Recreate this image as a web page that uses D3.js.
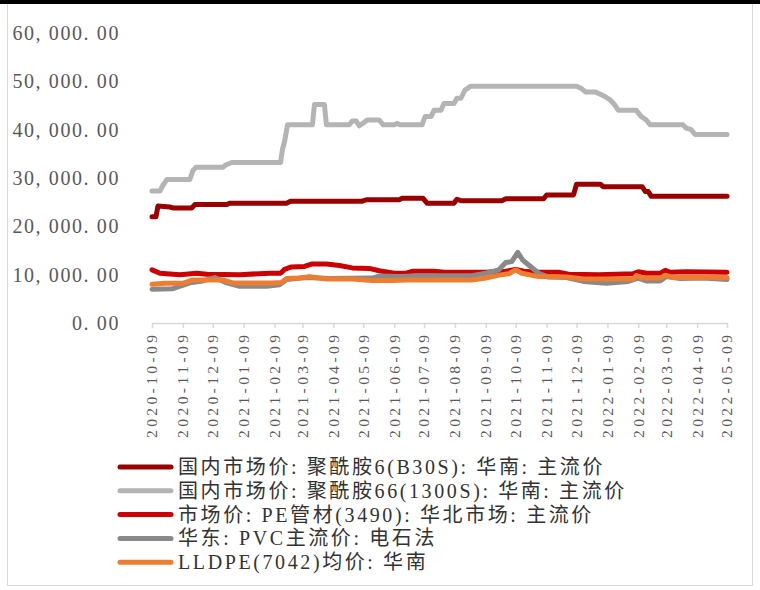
<!DOCTYPE html>
<html>
<head>
<meta charset="utf-8">
<script src="https://cdn.jsdelivr.net/npm/d3@7"></script>
<style>
  body { margin: 0; background: #fff; }
  svg { display: block; font-family: "Liberation Serif", "Noto Sans CJK SC", serif; }
</style>
</head>
<body>
<script>
// tick labels
const xTickLabels = ["2020-10-09", "2020-11-09", "2020-12-09", "2021-01-09", "2021-02-09",
  "2021-03-09", "2021-04-09", "2021-05-09", "2021-06-09", "2021-07-09", "2021-08-09",
  "2021-09-09", "2021-10-09", "2021-11-09", "2021-12-09", "2022-01-09", "2022-02-09",
  "2022-03-09", "2022-04-09", "2022-05-09"];
const yTicks = [0, 10000, 20000, 30000, 40000, 50000, 60000];

const seriesNames = [
  "国内市场价: 聚酰胺6(B30S): 华南: 主流价",
  "国内市场价: 聚酰胺66(1300S): 华南: 主流价",
  "市场价: PE管材(3490): 华北市场: 主流价",
  "华东: PVC主流价: 电石法",
  "LLDPE(7042)均价: 华南"
];
const colors = ["#990000", "#b4b4b4", "#cc0000", "#898989", "#ed7d31"];

// 聚酰胺6 (B30S)
const pa6 = [
  ["2020-10-09", 22000], ["2020-10-13", 22000], ["2020-10-15", 24200], ["2020-10-27", 24000],
  ["2020-10-30", 23800], ["2020-11-18", 23800], ["2020-11-21", 24500], ["2020-12-23", 24500],
  ["2020-12-26", 24800], ["2021-02-21", 24800], ["2021-02-25", 25200], ["2021-05-08", 25200],
  ["2021-05-12", 25500], ["2021-06-14", 25500], ["2021-06-17", 25800], ["2021-07-08", 25800],
  ["2021-07-12", 24800], ["2021-08-08", 24800], ["2021-08-11", 25600], ["2021-08-15", 25300],
  ["2021-09-25", 25300], ["2021-09-29", 25700], ["2021-11-06", 25700], ["2021-11-09", 26500],
  ["2021-12-06", 26500], ["2021-12-09", 28700], ["2022-01-02", 28700], ["2022-01-05", 28200],
  ["2022-02-13", 28200], ["2022-02-16", 27200], ["2022-02-19", 27200], ["2022-02-22", 26200],
  ["2022-05-09", 26200]
];

// 聚酰胺66 (1300S)
const pa66 = [
  ["2020-10-09", 27300], ["2020-10-17", 27300], ["2020-10-20", 28500], ["2020-10-24", 29700],
  ["2020-11-16", 29700], ["2020-11-19", 31500], ["2020-11-22", 32200], ["2020-12-19", 32200],
  ["2020-12-22", 32700], ["2020-12-28", 33200], ["2021-02-15", 33200], ["2021-02-17", 36000],
  ["2021-02-19", 37500], ["2021-02-22", 41000], ["2021-03-19", 41000], ["2021-03-21", 45200],
  ["2021-03-31", 45200], ["2021-04-02", 41000], ["2021-04-25", 41000], ["2021-04-28", 41800],
  ["2021-05-02", 41800], ["2021-05-05", 40800], ["2021-05-10", 41500], ["2021-05-13", 42000],
  ["2021-05-25", 42000], ["2021-05-29", 41000], ["2021-06-09", 41000], ["2021-06-12", 41300],
  ["2021-06-15", 41000], ["2021-07-07", 41000], ["2021-07-10", 42700], ["2021-07-16", 42700],
  ["2021-07-19", 44000], ["2021-07-26", 44000], ["2021-07-29", 45400], ["2021-08-08", 45400],
  ["2021-08-11", 46500], ["2021-08-15", 46500], ["2021-08-19", 48200], ["2021-08-25", 49000],
  ["2021-12-09", 49000], ["2021-12-14", 48500], ["2021-12-18", 47800], ["2021-12-28", 47800],
  ["2022-01-03", 47200], ["2022-01-07", 46800], ["2022-01-12", 46100], ["2022-01-16", 45200],
  ["2022-01-20", 44000], ["2022-02-07", 44000], ["2022-02-12", 42700], ["2022-02-17", 42000],
  ["2022-02-21", 41000], ["2022-03-26", 41000], ["2022-03-29", 40300], ["2022-04-03", 40000],
  ["2022-04-07", 39000], ["2022-05-09", 39000]
];

// PE管材 (3490)
const pe = [
  ["2020-10-09", 11000], ["2020-10-17", 10300], ["2020-11-06", 10000], ["2020-11-23", 10300],
  ["2020-12-03", 10100], ["2021-01-05", 10000], ["2021-02-04", 10300], ["2021-02-15", 10300],
  ["2021-02-19", 11100], ["2021-02-26", 11600], ["2021-03-11", 11700], ["2021-03-18", 12200],
  ["2021-04-02", 12200], ["2021-04-15", 11900], ["2021-04-28", 11400], ["2021-05-15", 11300],
  ["2021-05-25", 10800], ["2021-06-09", 10300], ["2021-06-21", 10300], ["2021-06-27", 10700],
  ["2021-07-19", 10700], ["2021-07-29", 10500], ["2021-09-09", 10500], ["2021-09-17", 10600],
  ["2021-09-29", 10700], ["2021-10-09", 11100], ["2021-10-17", 10700], ["2021-11-01", 10500],
  ["2021-11-21", 10500], ["2021-12-01", 10100], ["2021-12-31", 10000], ["2022-02-04", 10200],
  ["2022-02-09", 10600], ["2022-02-17", 10300], ["2022-03-03", 10300], ["2022-03-08", 10900],
  ["2022-03-13", 10500], ["2022-03-29", 10600], ["2022-05-09", 10500]
];

// PVC 电石法
const pvc = [
  ["2020-10-09", 7000], ["2020-10-30", 7100], ["2020-11-16", 8300], ["2020-11-29", 8700],
  ["2020-12-11", 9400], ["2020-12-23", 8300], ["2021-01-05", 7600], ["2021-02-01", 7600],
  ["2021-02-14", 7900], ["2021-02-21", 9000], ["2021-03-13", 9400], ["2021-04-05", 9200],
  ["2021-05-18", 9300], ["2021-05-25", 9700], ["2021-06-14", 9600], ["2021-07-04", 9800],
  ["2021-08-26", 9800], ["2021-09-09", 10300], ["2021-09-22", 11000], ["2021-09-29", 12500],
  ["2021-10-05", 12700], ["2021-10-11", 14600], ["2021-10-16", 13000], ["2021-10-22", 12000],
  ["2021-11-01", 10300], ["2021-11-11", 9500], ["2021-11-29", 9400], ["2021-12-16", 8600],
  ["2022-01-08", 8200], ["2022-01-30", 8600], ["2022-02-09", 9300], ["2022-02-17", 8700],
  ["2022-03-03", 8700], ["2022-03-09", 9600], ["2022-03-23", 9200], ["2022-04-15", 9300],
  ["2022-05-09", 9000]
];

// LLDPE (7042)
const lldpe = [
  ["2020-10-09", 8000], ["2020-10-22", 8200], ["2020-11-09", 8200], ["2020-11-19", 8900],
  ["2020-12-19", 8900], ["2020-12-29", 8300], ["2021-02-07", 8300], ["2021-02-16", 8400],
  ["2021-02-21", 9200], ["2021-03-06", 9300], ["2021-03-16", 9600], ["2021-04-02", 9100],
  ["2021-04-28", 9100], ["2021-05-18", 8800], ["2021-06-07", 8800], ["2021-06-21", 8900],
  ["2021-08-26", 8900], ["2021-09-09", 9300], ["2021-09-22", 9900], ["2021-10-02", 10200],
  ["2021-10-09", 11000], ["2021-10-15", 10300], ["2021-11-01", 9600], ["2021-11-29", 9500],
  ["2021-12-16", 9100], ["2022-02-04", 9100], ["2022-02-07", 9800], ["2022-02-14", 9300],
  ["2022-03-03", 9300], ["2022-03-08", 9900], ["2022-03-16", 9400], ["2022-05-09", 9400]
];

const allSeries = [pa6, pa66, pe, pvc, lldpe];

const width = 760;
const height = 590;
const parse = d3.utcParse("%Y-%m-%d");

const svg = d3.select("body").append("svg")
  .attr("width", width)
  .attr("height", height);

// frame
svg.append("rect")
  .attr("x", 7.5).attr("y", 3.5)
  .attr("width", 745).attr("height", 582)
  .attr("fill", "#fff")
  .attr("stroke", "#d9d9d9");
svg.append("rect")
  .attr("x", 0).attr("y", 0)
  .attr("width", width).attr("height", 4)
  .attr("fill", "#000");

// scales
const x = d3.scaleUtc()
  .domain([parse(xTickLabels[0]), parse(xTickLabels[xTickLabels.length - 1])])
  .range([152, 727]);

const y = d3.scaleLinear()
  .domain([0, 60000])
  .range([323, 33]);

// y labels (no axis line)
const fmt = d3.format(",.2f");
svg.append("g")
  .selectAll("text")
  .data(yTicks)
  .join("text")
  .attr("x", 120)
  .attr("y", d => y(d))
  .attr("dy", "0.35em")
  .attr("text-anchor", "end")
  .attr("fill", "#595959")
  .style("font-size", "20px")
  .style("letter-spacing", "1.6px")
  .text(d => fmt(d).replace(",", ", ").replace(".", ". "));

// x axis
const xAxis = svg.append("g")
  .attr("transform", `translate(0,${y(0)})`)
  .call(d3.axisBottom(x)
    .tickValues(xTickLabels.map(parse))
    .tickSize(5)
    .tickSizeOuter(0)
    .tickFormat(""));
xAxis.select(".domain").attr("stroke", "#d9d9d9").attr("stroke-width", 1.5);
xAxis.selectAll(".tick line").attr("stroke", "#d9d9d9").attr("stroke-width", 1.5);

svg.append("g")
  .selectAll("text")
  .data(xTickLabels)
  .join("text")
  .attr("transform", d => `translate(${x(parse(d))},335) rotate(-90)`)
  .attr("text-anchor", "end")
  .attr("dy", "0.35em")
  .attr("fill", "#595959")
  .attr("textLength", 103)
  .attr("lengthAdjust", "spacing")
  .style("font-size", "15.5px")
  .text(d => d);

// lines
const line = d3.line()
  .x(d => x(parse(d[0])))
  .y(d => y(d[1]));

svg.append("g")
  .selectAll("path")
  .data(allSeries)
  .join("path")
  .attr("d", line)
  .attr("fill", "none")
  .attr("stroke", (d, i) => colors[i])
  .attr("stroke-width", 5)
  .attr("stroke-linejoin", "round")
  .attr("stroke-linecap", "round");

// legend
const legend = svg.append("g")
  .selectAll("g")
  .data(seriesNames)
  .join("g")
  .attr("transform", (d, i) => `translate(0,${467 + i * 23.8})`);

legend.append("line")
  .attr("x1", 120).attr("x2", 171)
  .attr("stroke", (d, i) => colors[i])
  .attr("stroke-width", 5)
  .attr("stroke-linecap", "round");

legend.append("text")
  .attr("x", 178)
  .attr("dy", "0.35em")
  .attr("fill", "#333")
  .style("font-size", "20px")
  .style("letter-spacing", "2.6px")
  .text(d => d);
</script>
</body>
</html>
